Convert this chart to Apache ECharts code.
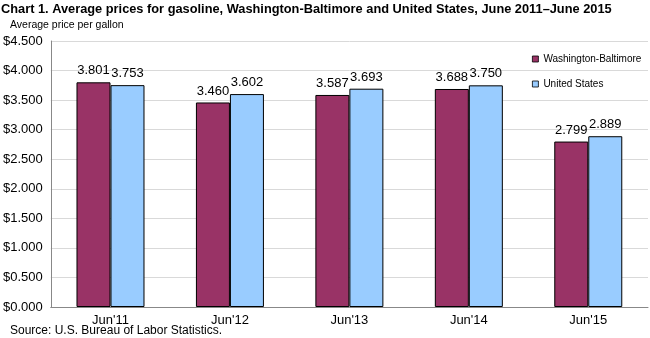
<!DOCTYPE html>
<html><head><meta charset="utf-8">
<script src="https://cdn.jsdelivr.net/npm/echarts@6/dist/echarts.min.js"></script>
<style>html,body{margin:0;padding:0;background:#fff}#c{width:650px;height:338px}</style>
</head><body><div id="c"></div>
<script>
const categories = ["Jun'11", "Jun'12", "Jun'13", "Jun'14", "Jun'15"];
const washBalt = [3.801, 3.460, 3.587, 3.688, 2.799];
const us = [3.753, 3.602, 3.693, 3.750, 2.889];
const seriesNames = ["Washington-Baltimore", "United States"];
const titleText = "Chart 1. Average prices for gasoline, Washington-Baltimore and United States, June 2011\u2013June 2015";
const axisName = "Average price per gallon";
const sourceText = "Source: U.S. Bureau of Labor Statistics.";

const F = "Liberation Sans, Arial, sans-serif";
const chart = echarts.init(document.getElementById('c'));
const lbl = {show:true, position:'top', distance:5, color:'#000', fontFamily:F, fontSize:13, formatter: p => p.value.toFixed(3)};
chart.setOption({
  animation:false,
  graphic:[
    {type:'text', left:1, top:3, style:{text:titleText, font:'bold 12.8px '+F, fill:'#000'}},
    {type:'text', left:10, top:20, style:{text:axisName, font:'10.5px '+F, fill:'#000'}},
    {type:'text', left:10, top:325, style:{text:sourceText, font:'12px '+F, fill:'#000'}}
  ],
  legend:{orient:'vertical', left:527, top:49, itemWidth:6, itemHeight:6, itemGap:15, icon:'rect',
    itemStyle:{borderColor:'#000', borderWidth:0.8},
    textStyle:{fontFamily:F, fontSize:10, color:'#000'}, data:seriesNames},
  grid:{left:48, right:2, top:41, bottom:31, containLabel:false},
  xAxis:{type:'category', data:categories,
    axisLine:{lineStyle:{color:'#888'}}, axisTick:{show:false},
    axisLabel:{color:'#000', fontFamily:F, fontSize:13, margin:7}},
  yAxis:{type:'value', min:0, max:4.5, interval:0.5,
    axisLine:{show:true, lineStyle:{color:'#888'}}, axisTick:{show:false},
    splitLine:{lineStyle:{color:'#d9d9d9'}},
    axisLabel:{color:'#000', fontFamily:F, fontSize:13, margin:8, formatter: v => '$'+v.toFixed(3)}},
  series:[
    {name:seriesNames[0], type:'bar', data:washBalt, barWidth:34, barGap:'0%',
     itemStyle:{color:'#993366', borderColor:'#000', borderWidth:1}, label:lbl},
    {name:seriesNames[1], type:'bar', data:us, barWidth:34, barGap:'0%',
     itemStyle:{color:'#99ccff', borderColor:'#000', borderWidth:1}, label:lbl}
  ]
});
</script></body></html>
